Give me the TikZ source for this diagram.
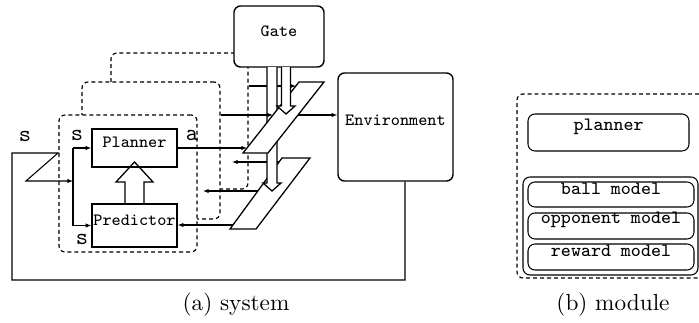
\documentclass[tikz,border=0pt]{standalone}
\usetikzlibrary{arrows.meta,fit}
\begin{document}
\begin{tikzpicture}[x=0.43pt,y=-0.43pt,line width=0.45pt,
  sbox/.style={draw, fill=white, line width=0.6pt, inner sep=0pt, font=\ttfamily\fontsize{7.4}{8}\selectfont},
  rbox/.style={sbox, rounded corners=2.8pt},
  dbox/.style={draw, fill=white, dash pattern=on 1.7pt off 1.3pt, rounded corners=2.6pt, inner sep=0pt, line width=0.5pt},
  mbox/.style={draw, fill=white, rounded corners=3pt, inner sep=0pt, line width=0.45pt, font=\ttfamily\fontsize{8.1}{9}\selectfont},
  arr/.style={-{Latex[length=2.4pt,width=1.9pt]}},
  hollow/.style={draw, fill=white, line width=0.55pt},
  para/.style={draw, fill=white, line width=0.55pt},
  lab/.style={font=\ttfamily\fontsize{10}{11}\selectfont, inner sep=0pt},
  captext/.style={font=\normalsize, inner sep=0pt}]
\useasboundingbox (0,0) rectangle (699,322);

% ---------- (a) system ----------
\node[dbox, fit={(111,53) (248,189)}] (mod3) {};
\node[rbox, fit={(234,6) (324,67)}] (gate) {Gate};
\node[dbox, fit={(82,82) (220,219)}] (mod2) {};
\node[dbox, fit={(59,115) (197,252)}] (mod1) {};
\node[sbox, fit={(92,129) (177,167)}] (planner) {Planner};
\node[sbox, fit={(92,204) (177,247)}] (predictor) {Predictor};
\node[rbox, fit={(338,73) (453,181)}] (env) {};
\node[font=\ttfamily\fontsize{7.4}{8}\selectfont, inner sep=0pt] (envtext) at ([yshift=3pt]env.center) {Environment};

% predictor -> planner hollow arrow
\draw[line width=0.55pt] (125,204) -- (125,182) -- (116,182) -- (134.5,162) -- (153,182) -- (144,182) -- (144,204);

% switch corners and ports
\coordinate (s1a) at (299,82);  \coordinate (s1b) at (324,82);
\coordinate (s1c) at (268,153); \coordinate (s1d) at (243,153);
\coordinate (s2a) at (282,158); \coordinate (s2b) at (310,158);
\coordinate (s2c) at (256,229); \coordinate (s2d) at (230,229);
\coordinate (s1in3) at (296,86);
\coordinate (s1in2) at (273,115);
\coordinate (s1in1) at (247,148);
\coordinate (s1out) at (298,115);
\coordinate (s2out3) at (279,162);
\coordinate (s2out2) at (258,191);
\coordinate (s2out1) at (233,225);
\coordinate (m3in) at (232,162);
\coordinate (m2in) at (203,191);

% connectors
\draw[arr] (mod3.east |- s1in3) -- (s1in3);
\draw[arr] (planner.east) -- (s1in1);
\draw[arr] (s1out) -- (s1out -| env.west);
\draw[arr] (s2out3) -- (m3in);
\draw[arr] (s2out2) -- (m2in);
\draw[arr] (s2out1) -- (s2out1 -| predictor.east);

% feedback loop
\coordinate (fb1) at (405,280);
\coordinate (fb2) at (12,280);
\coordinate (fb3) at (12,153);
\coordinate (fb4) at (58,153);
\coordinate (fb5) at (26,181);
\coordinate (sp) at (73,181);
\draw[arr] (env.south -| fb1) -- (fb1) -- (fb2) -- (fb3) -- (fb4) -- (fb5) -- (sp);
\draw (sp |- planner.west) -- (sp |- predictor.west);
\draw[arr] (sp |- planner.west) -- (planner.west);
\draw[arr] (sp |- predictor.west) -- (predictor.west);

% switches and gate arrows
\path[para] (s2a) -- (s2b) -- (s2c) -- (s2d) -- cycle;
\path[hollow] (267,67) -- (267,183) -- (263,183) -- (272,191) -- (281,183) -- (277,183) -- (277,67);
\path[para] (s1a) -- (s1b) -- (s1c) -- (s1d) -- cycle;
\path[hollow] (281.5,67) -- (281.5,106) -- (277,106) -- (286,114) -- (295,106) -- (290.5,106) -- (290.5,67);
\draw[arr] (mod2.east |- s1in2) -- (s1in2);

% labels
\node[lab] (ls1) at (25,136) {s};
\node[lab] (ls2) at (77,135) {s};
\node[lab] (la) at (192,135) {a};
\node[lab] (ls3) at (82,239) {s};

% ---------- (b) module ----------
\node[dbox, fit={(517,94) (705,278)}] (outer) {};
\node[mbox, fit={(528,114) (689,151)}] (mplanner) {planner};
\node[mbox, fit={(523,177) (698,275)}] (mgroup) {};
\node[mbox, fit={(528,182) (694,207)}] (ball) {ball model};
\node[mbox, fit={(528,213) (694,239)}] (opp) {opponent model};
\node[mbox, fit={(528,244) (694,270)}] (rew) {reward model};

% captions
\node[captext] (capa) at (236,305) {(a) system};
\node[captext] (capb) at (613,305) {(b) module};
\end{tikzpicture}
\end{document}
